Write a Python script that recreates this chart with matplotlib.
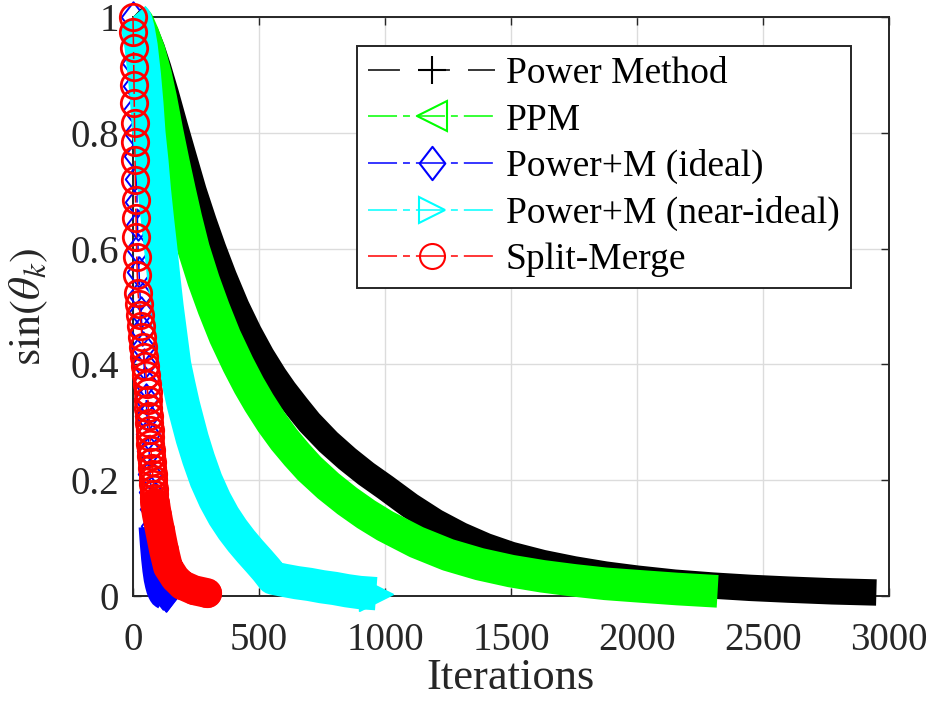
import matplotlib
matplotlib.use('Agg')
import matplotlib.pyplot as plt
from matplotlib.lines import Line2D
from matplotlib.path import Path

plt.rcParams['font.family'] = 'Liberation Serif'
plt.rcParams['mathtext.fontset'] = 'stix'
plt.rcParams['lines.scale_dashes'] = False

# ---- values ----
pm_iter = [0, 25, 50, 75, 100, 130, 167, 200, 240, 280, 318, 360, 410, 460, 510, 560, 600, 650, 700, 775,
           850, 925, 1000, 1100, 1200, 1300, 1400, 1500, 1625, 1750, 1875, 2000, 2150, 2300, 2450, 2600,
           2775, 2950]
pm_val = [1.0, 0.99, 0.972, 0.945, 0.912, 0.868, 0.81, 0.76, 0.7, 0.647, 0.6, 0.552, 0.5, 0.455, 0.415,
          0.38, 0.355, 0.327, 0.3, 0.266, 0.237, 0.211, 0.188, 0.156, 0.128, 0.105, 0.086, 0.071, 0.057,
          0.046, 0.037, 0.03, 0.023, 0.018, 0.014, 0.011, 0.008, 0.006]

ppm_iter = [0, 20, 40, 65, 90, 110, 134, 160, 185, 210, 240, 280, 320, 365, 417, 460, 500, 550, 600, 650,
            700, 775, 850, 925, 1000, 1125, 1250, 1375, 1500, 1625, 1750, 1875, 2000, 2160, 2320]
ppm_val = [1.0, 0.99, 0.97, 0.94, 0.9, 0.86, 0.805, 0.75, 0.7, 0.652, 0.6, 0.545, 0.497, 0.448, 0.4, 0.364,
           0.334, 0.3, 0.27, 0.244, 0.22, 0.19, 0.164, 0.141, 0.121, 0.093, 0.071, 0.055, 0.043, 0.034,
           0.027, 0.021, 0.017, 0.012, 0.008]

ideal_iter = [0, 2, 4, 6, 8, 10, 12, 14, 16, 18, 20, 24, 28, 32, 36, 40, 44, 48, 52, 56,
              60, 64, 68, 72, 76, 80, 85, 90, 95, 100, 105, 110, 115, 120, 131]
ideal_val = [1.0, 0.96, 0.92, 0.88, 0.84, 0.8, 0.76, 0.72, 0.68, 0.64, 0.6, 0.56, 0.52, 0.49, 0.46, 0.43, 0.4,
             0.37, 0.34, 0.31, 0.28, 0.25, 0.21, 0.18, 0.15, 0.12, 0.09, 0.065, 0.045, 0.03, 0.02, 0.012,
             0.007, 0.003, 0.0]

near_iter = [0, 10, 20, 32, 45, 55, 63, 75, 85, 97, 110, 122, 135, 150, 165, 182, 200, 218, 235, 260, 290,
             325, 360, 395, 430, 465, 500, 530, 555, 600, 650, 700, 750, 800, 850, 900, 965]
near_val = [1.0, 0.995, 0.98, 0.95, 0.9, 0.85, 0.8, 0.75, 0.7, 0.65, 0.6, 0.55, 0.5, 0.45, 0.4, 0.365, 0.33,
            0.3, 0.272, 0.237, 0.2, 0.166, 0.138, 0.115, 0.095, 0.077, 0.06, 0.045, 0.031, 0.027, 0.023,
            0.02, 0.016, 0.013, 0.009, 0.006, 0.004]

sm_iter = [0, 1, 2, 3, 4, 5, 6, 7, 8, 9, 10, 12, 13, 15, 17, 20,
           24, 28, 32, 36, 40, 44, 48, 52, 56, 58, 59, 61, 63, 64, 66, 68, 69, 71, 73, 74, 76, 78, 79, 81, 82,
           84, 85, 87, 95, 107, 123, 139, 167, 195, 242, 294]
sm_val = [1.0, 0.974, 0.946, 0.914, 0.883, 0.852, 0.817, 0.784, 0.753, 0.718, 0.684, 0.653, 0.62, 0.585,
          0.554, 0.523, 0.504, 0.485, 0.466, 0.447, 0.43, 0.413, 0.397, 0.382, 0.366, 0.352, 0.339, 0.325,
          0.311, 0.299, 0.287, 0.275, 0.263, 0.252, 0.242, 0.231, 0.221, 0.211, 0.202, 0.193, 0.185, 0.176,
          0.169, 0.161, 0.14, 0.114, 0.079, 0.05, 0.031, 0.019, 0.01, 0.005]

labels = ['Power Method', 'PPM', 'Power+M (ideal)', 'Power+M (near-ideal)', 'Split-Merge']
xticks = [0, 500, 1000, 1500, 2000, 2500, 3000]
yticks = [0, 0.2, 0.4, 0.6, 0.8, 1]
ytick_labels = ['0', '0.2', '0.4', '0.6', '0.8', '1']

# ---- styles ----
c_pm, c_ppm, c_id, c_near, c_sm = '#000000', '#00ff00', '#0000ff', '#00ffff', '#ff0000'
dash_pm = (23, 13)
dash_dd = (20.9, 4.3, 5.0, 4.3)
diamond = Path([(0, 1), (0.77, 0), (0, -1), (-0.77, 0), (0, 1)],
               [Path.MOVETO, Path.LINETO, Path.LINETO, Path.LINETO, Path.CLOSEPOLY])
axcol = '#262626'

fig = plt.figure(figsize=(9.34, 7.19), dpi=100)
ax = fig.add_axes([0.1424, 0.1711, 0.8094, 0.8053])

def band(x, y, color, lw, cap='butt'):
    ln, = ax.plot(x, y, color=color, lw=lw, solid_capstyle=cap, solid_joinstyle='round', clip_on=False)
    return ln

# Power Method
band(pm_iter, pm_val, c_pm, 19)

# PPM
band(ppm_iter, ppm_val, c_ppm, 23.5)

# Power+M ideal
band(ideal_iter[25:], ideal_val[25:], c_id, 21)
ax.plot(ideal_iter, ideal_val, color=c_id, lw=1.1, dashes=dash_dd, marker=diamond, ms=22,
        mew=1.4, mfc='none', clip_on=False)
ax.plot(ideal_iter[-1:], ideal_val[-1:], ls='none', marker=diamond, ms=22, color=c_id, clip_on=False)

# Power+M near-ideal
band(near_iter, near_val, c_near, 24)
ax.plot(near_iter[-1:], near_val[-1:], ls='none', marker='>', ms=24, color=c_near, clip_on=False)

# Split-Merge
band(sm_iter[43:], sm_val[43:], c_sm, 21.5, cap='round')
ax.plot(sm_iter, sm_val, color=c_sm, lw=1.1, dashes=dash_dd, marker='o', ms=19,
        mew=2.0, mfc='none', clip_on=False)

ax.set_xlim(0, 3000)
ax.set_ylim(0, 1)
ax.set_xticks(xticks)
ax.set_yticks(yticks)
ax.set_yticklabels(ytick_labels)
ax.grid(True, color='#dcdcdc', lw=1.0)
ax.set_axisbelow(True)
for s in ax.spines.values():
    s.set_color(axcol)
    s.set_linewidth(1.4)
    s.set_zorder(1.5)
ax.tick_params(direction='in', top=True, right=True, length=6, width=1.0, colors=axcol,
               labelsize=28, labelcolor=axcol)
ax.tick_params(axis='x', pad=19)
ax.tick_params(axis='y', pad=10)
ax.set_xlabel('Iterations', fontsize=32, color=axcol, labelpad=-1)
ax.set_ylabel(r'$\sin(\theta_k)$', fontsize=32, color=axcol, labelpad=15)

handles = [
    Line2D([], [], color=c_pm, lw=1.1, dashes=dash_pm, marker='+', ms=20, mew=1.5),
    Line2D([], [], color=c_ppm, lw=1.1, dashes=dash_dd, marker='<', ms=21, mew=1.5, mfc='none'),
    Line2D([], [], color=c_id, lw=1.1, dashes=dash_dd, marker=diamond, ms=24, mew=1.5, mfc='none'),
    Line2D([], [], color=c_near, lw=1.1, dashes=dash_dd, marker='>', ms=19, mew=1.5, mfc='none'),
    Line2D([], [], color=c_sm, lw=1.1, dashes=dash_dd, marker='o', ms=18, mew=1.5, mfc='none'),
]
leg = ax.legend(handles, labels, loc='upper left', bbox_to_anchor=(357 / 934, 1 - 46 / 719),
                bbox_transform=fig.transFigure, fontsize=27, frameon=True, fancybox=False,
                handlelength=3.4, handletextpad=0.28, borderpad=0.29, labelspacing=0.31,
                borderaxespad=0, framealpha=1)
leg.get_frame().set_edgecolor(axcol)
leg.get_frame().set_linewidth(1.4)
leg.set_zorder(10)

fig.savefig('out.png', dpi=100)
